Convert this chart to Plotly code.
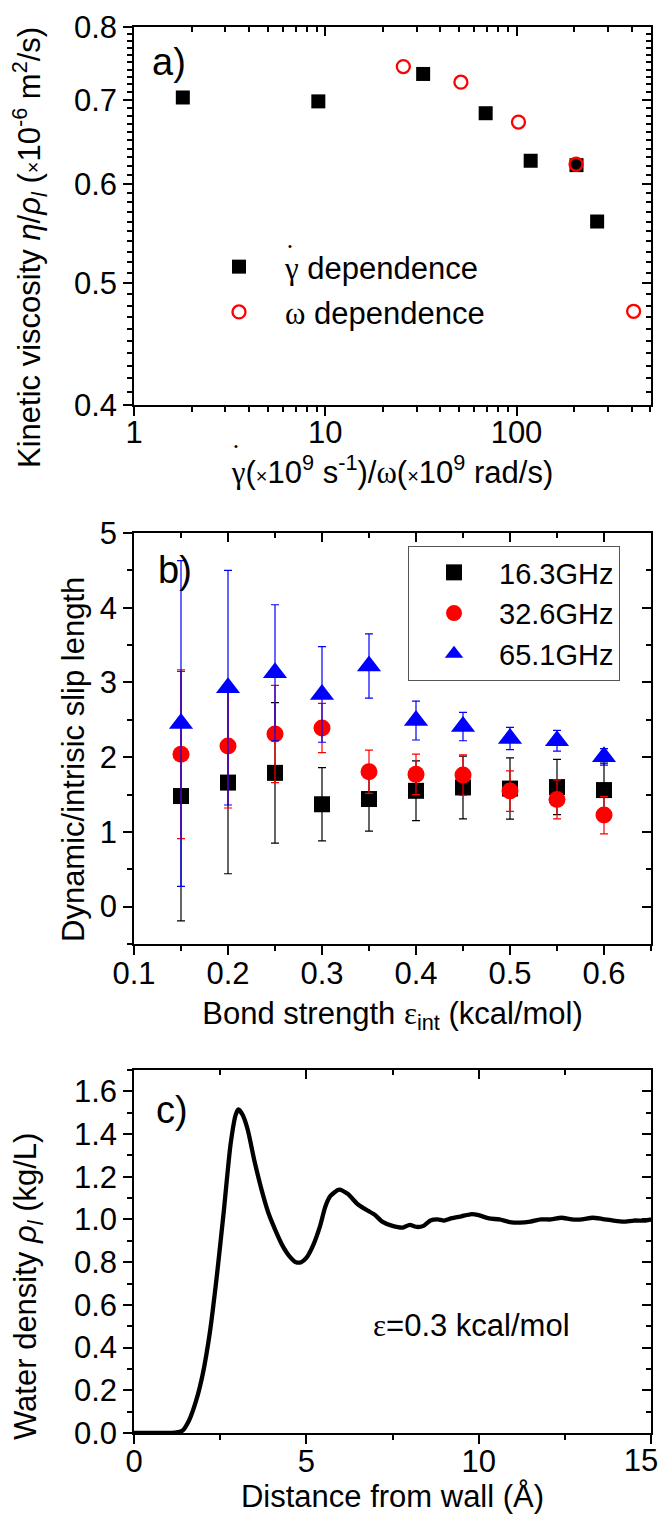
import math
import plotly.graph_objects as go

# ---------------- data ----------------
# panel a
shear_rate = [1.8, 9.2, 32.5, 69, 118.6, 206, 264]
visc_shear = [0.703, 0.698, 0.734, 0.683, 0.626, 0.621, 0.560]
omega = [25.6, 51.2, 102.4, 204.8, 409.6]
visc_omega = [0.744, 0.723, 0.672, 0.622, 0.475]

# panel b
bond = [0.15, 0.20, 0.25, 0.30, 0.35, 0.40, 0.45, 0.50, 0.55, 0.60]
slip_16 = [1.48, 1.66, 1.79, 1.37, 1.44, 1.55, 1.595, 1.58, 1.60, 1.56]
err_16 = [1.67, 1.22, 0.94, 0.49, 0.43, 0.40, 0.42, 0.41, 0.37, 0.36]
slip_32 = [2.04, 2.15, 2.31, 2.39, 1.805, 1.77, 1.76, 1.546, 1.435, 1.225]
err_32 = [1.13, 0.83, 0.65, 0.33, 0.29, 0.27, 0.27, 0.27, 0.26, 0.25]
slip_65 = [2.45, 2.93, 3.13, 2.84, 3.22, 2.49, 2.41, 2.25, 2.22, 2.005]
err_65 = [2.18, 1.57, 0.91, 0.64, 0.43, 0.26, 0.19, 0.15, 0.14, 0.11]

# panel c
dist = [0.0, 0.4, 0.8, 1.2, 1.4, 1.6, 1.8, 2.0, 2.2, 2.4, 2.6, 2.8, 2.95, 3.03,
        3.15, 3.3, 3.5, 3.7, 3.9, 4.1, 4.3, 4.5, 4.7, 4.85, 5.0, 5.2, 5.4,
        5.55, 5.7, 5.95, 6.2, 6.5, 6.8, 7.0, 7.2, 7.5, 7.8, 8.0, 8.2, 8.4,
        8.6, 8.8, 9.0, 9.2, 9.5, 9.8, 10.0, 10.3, 10.6, 10.9, 11.2, 11.5,
        11.8, 12.1, 12.4, 12.7, 13.0, 13.3, 13.6, 13.9, 14.2, 14.5, 14.8, 15.0]
dens = [0.0, 0.0, 0.0, 0.002, 0.01, 0.06, 0.15, 0.28, 0.47, 0.73, 1.03, 1.35,
        1.49, 1.515, 1.49, 1.42, 1.27, 1.14, 1.03, 0.95, 0.88, 0.83, 0.80,
        0.80, 0.82, 0.88, 0.97, 1.06, 1.11, 1.14, 1.12, 1.07, 1.04, 1.02,
        0.99, 0.97, 0.962, 0.975, 0.965, 0.97, 0.995, 1.0, 0.995, 1.005,
        1.015, 1.025, 1.02, 1.005, 1.0, 0.988, 0.985, 0.99, 1.0, 1.0, 1.008,
        1.0, 1.0, 1.008, 1.002, 0.995, 0.99, 0.995, 0.995, 1.0]

a_xticks = [1, 10, 100]
a_yticks = [0.4, 0.5, 0.6, 0.7, 0.8]
c_xticks = [0, 5, 10, 15]

# ---------------- layout helpers ----------------
FONT = "Liberation Sans, Arial, sans-serif"
W, H = 664, 1533
ML, MR, MT, MB = 134, 13, 20, 90
PW, PH = W - ML - MR, H - MT - MB


def px(x):
    return (x - ML) / PW


def py(y):
    return (H - MB - y) / PH


def dom(top, bottom):
    return [py(bottom), py(top)]


TICKFONT = dict(family=FONT, size=31, color="black")
TITLEFONT = dict(family=FONT, size=31, color="black")


def minor(side, **kw):
    d = dict(ticks=side, ticklen=5, tickwidth=1.5, tickcolor="black",
             showgrid=False)
    d.update(kw)
    return d


def main_axis(**kw):
    d = dict(showline=True, linecolor="black", linewidth=1.5, mirror=True,
             ticks="outside", ticklen=9, tickwidth=1.5, tickcolor="black",
             showgrid=False, zeroline=False, tickfont=TICKFONT,
             ticklabeloverflow="allow", automargin=False)
    d.update(kw)
    return d


def over_axis(**kw):
    d = dict(showline=False, ticks="inside", ticklen=9, tickwidth=1.5,
             tickcolor="black", showgrid=False, zeroline=False,
             showticklabels=False, automargin=False)
    d.update(kw)
    return d


fig = go.Figure()

# ---------------- panel a ----------------
fig.add_trace(go.Scatter(
    x=shear_rate, y=visc_shear, mode="markers", xaxis="x", yaxis="y",
    name="<span style='font-family:Liberation Serif'>γ</span> dependence",
    legendgroup="a1", legend="legend",
    marker=dict(symbol="square", size=14, color="black")))
fig.add_trace(go.Scatter(
    x=omega, y=visc_omega, mode="markers", xaxis="x", yaxis="y",
    name="<span style='font-family:Liberation Serif'>ω</span> dependence",
    legendgroup="a2", legend="legend",
    marker=dict(symbol="circle-open", size=13, color="#ff0000",
                line=dict(width=2.3, color="#ff0000"))))

# ---------------- panel b ----------------
for ys, es, col, sym, sz, nm in [
        (slip_16, err_16, "black", "square", 16, "16.3GHz"),
        (slip_32, err_32, "#ff0000", "circle", 17, "32.6GHz"),
        (slip_65, err_65, "#0000ff", "triangle-up", 21, "65.1GHz")]:
    fig.add_trace(go.Scatter(
        x=bond, y=ys, mode="markers", xaxis="x2", yaxis="y2", name=nm,
        legend="legend2",
        marker=dict(symbol=sym, size=sz, color=col),
        error_y=dict(type="data", array=es, visible=True, color=col,
                     thickness=1.2, width=4)))

# ---------------- panel c ----------------
fig.add_trace(go.Scatter(
    x=dist, y=dens, mode="lines", xaxis="x3", yaxis="y3", showlegend=False,
    line=dict(color="black", width=4.3, shape="spline", smoothing=0.6)))

# invisible helper traces so that the extra axes (mirrored inside ticks,
# last tick label of panel c) are drawn
for xa, ya, xs, ys in [("x4", "y", shear_rate, visc_shear),
                       ("x", "y4", shear_rate, visc_shear),
                       ("x5", "y2", bond, slip_16),
                       ("x2", "y5", bond, slip_16),
                       ("x6", "y3", dist, dens),
                       ("x3", "y6", dist, dens),
                       ("x7", "y3", dist, dens)]:
    fig.add_trace(go.Scatter(x=xs[:1], y=ys[:1], xaxis=xa, yaxis=ya,
                             mode="markers", marker=dict(opacity=0, size=1),
                             showlegend=False, hoverinfo="skip"))

a_xrange = [0, math.log10(505)]
a_yrange = [math.log10(0.4), math.log10(0.8)]
a_xminor = [2, 3, 4, 5, 6, 7, 8, 9, 20, 30, 40, 50, 60, 70, 80, 90,
            200, 300, 400, 500]
a_yminor = [round(0.40 + 0.01 * i, 2) for i in range(1, 40) if i % 10 != 0]

xa_title = ("<span style='font-family:Liberation Serif'>γ</span>"
            "(<span style='font-size:20px'>×</span>10<sup>9</sup> s<sup>-1</sup>)/"
            "<span style='font-family:Liberation Serif'>ω</span>"
            "(<span style='font-size:20px'>×</span>10<sup>9</sup> rad/s)")

fig.update_layout(
    xaxis=main_axis(type="log", range=a_xrange, tickmode="array",
                    tickvals=a_xticks, ticktext=[str(v) for v in a_xticks],
                    domain=[0, 1], anchor="y", ticklabelstandoff=-10,
                    minor=minor("outside", tickmode="array", tickvals=a_xminor),
                    title=dict(text=xa_title, font=TITLEFONT, standoff=0)),
    yaxis=main_axis(type="log", range=a_yrange, tickmode="array",
                    tickvals=a_yticks, ticktext=["%.1f" % v for v in a_yticks],
                    domain=dom(27, 405), anchor="x",
                    minor=minor("outside", tickmode="array", tickvals=a_yminor)),
    xaxis4=over_axis(type="log", range=a_xrange, overlaying="x", side="top",
                     anchor="y", tickmode="array", tickvals=a_xticks,
                     minor=minor("inside", tickmode="array", tickvals=a_xminor)),
    yaxis4=over_axis(type="log", range=a_yrange, overlaying="y", side="right",
                     anchor="x", tickmode="array", tickvals=a_yticks,
                     minor=minor("inside", tickmode="array", tickvals=a_yminor)),

    xaxis2=main_axis(range=[0.1, 0.65], tick0=0.1, dtick=0.1, anchor="y2",
                     domain=[0, 1], tickformat=".1f", ticklabelstandoff=-8,
                     minor=minor("outside", dtick=0.05, tick0=0.1),
                     title=dict(text="Bond strength <span style='font-family:Liberation Serif'>ε</span>"
                                     "<sub>int</sub> (kcal/mol)",
                                font=TITLEFONT, standoff=12)),
    yaxis2=main_axis(range=[-0.5, 5], tick0=0, dtick=1, anchor="x2",
                     domain=dom(533, 944),
                     minor=minor("outside", dtick=0.5, tick0=0)),
    xaxis5=over_axis(range=[0.1, 0.65], tick0=0.1, dtick=0.1,
                     overlaying="x2", side="top", anchor="y2",
                     minor=minor("inside", dtick=0.05, tick0=0.1)),
    yaxis5=over_axis(range=[-0.5, 5], tick0=0, dtick=1, overlaying="y2",
                     side="right", anchor="x2",
                     minor=minor("inside", dtick=0.5, tick0=0)),

    xaxis3=main_axis(range=[0, 15], tickmode="array", tickvals=c_xticks,
                     ticktext=[str(v) for v in c_xticks[:-1]] + [""],
                     anchor="y3", domain=[0, 1], ticklabelstandoff=-9,
                     minor=minor("outside", dtick=2.5, tick0=0),
                     title=dict(text="Distance from wall (Å)", font=TITLEFONT,
                                standoff=2)),
    xaxis7=dict(range=[0, 15], tickmode="array", tickvals=c_xticks[-1:],
                ticktext=[str(c_xticks[-1])], overlaying="x3", side="bottom",
                anchor="y3", showline=False, showgrid=False, zeroline=False,
                ticks="outside", ticklen=9, tickcolor="rgba(0,0,0,0)",
                tickfont=TICKFONT, ticklabelstandoff=-9, ticklabelshift=-10,
                ticklabeloverflow="allow", automargin=False),
    yaxis3=main_axis(range=[0, 1.7], tick0=0, dtick=0.2, tickformat=".1f",
                     anchor="x3", domain=dom(1070, 1433),
                     minor=minor("outside", dtick=0.1, tick0=0)),
    xaxis6=over_axis(range=[0, 15], tick0=0, dtick=5, overlaying="x3",
                     side="top", anchor="y3",
                     minor=minor("inside", dtick=2.5, tick0=0)),
    yaxis6=over_axis(range=[0, 1.7], tick0=0, dtick=0.2, overlaying="y3",
                     side="right", anchor="x3",
                     minor=minor("inside", dtick=0.1, tick0=0)),

    legend=dict(x=px(193), y=py(240), xanchor="left", yanchor="top",
                font=dict(family=FONT, size=31, color="black"),
                bgcolor="rgba(0,0,0,0)", borderwidth=0, itemwidth=82,
                tracegroupgap=2),
    legend2=dict(x=px(408), y=py(546), xanchor="left", yanchor="top",
                 font=dict(family=FONT, size=29, color="black"),
                 bgcolor="white", bordercolor="#555555", borderwidth=1,
                 itemwidth=80),
    width=W, height=H,
    margin=dict(l=ML, r=MR, t=MT, b=MB, autoexpand=False),
    paper_bgcolor="white", plot_bgcolor="white",
    font=dict(family=FONT, color="black"),
    showlegend=True,
)

ann = [
    dict(x=px(30), y=py(248), textangle=-90,
         text="Kinetic viscosity <i>η</i>/<i>ρ<sub>l</sub></i> "
              "(<span style='font-size:20px'>×</span>10<sup>-6</sup> m<sup>2</sup>/s)",
         font=TITLEFONT),
    dict(x=px(73), y=py(760), textangle=-90,
         text="Dynamic/intrisic slip length", font=TITLEFONT),
    dict(x=px(28), y=py(1287), textangle=-90,
         text="Water density <i>ρ<sub>l</sub></i> (kg/L)", font=TITLEFONT),
    dict(x=px(169), y=py(62), text="a)", font=dict(family=FONT, size=38)),
    dict(x=px(175), y=py(570), text="b)", font=dict(family=FONT, size=38)),
    dict(x=px(172), y=py(1110), text="c)", font=dict(family=FONT, size=38)),
    dict(x=px(471), y=py(1325),
         text="<span style='font-family:Liberation Serif'>ε</span>=0.3 kcal/mol",
         font=TITLEFONT),
    dict(x=px(236), y=py(446), text="•", font=dict(family=FONT, size=11)),
    dict(x=px(290), y=py(246), text="•", font=dict(family=FONT, size=11)),
]
for a in ann:
    a.update(xref="paper", yref="paper", showarrow=False,
             xanchor="center", yanchor="middle")
    a["font"] = dict(a["font"], color="black")
fig.update_layout(annotations=ann)

fig.write_html("out.html")
